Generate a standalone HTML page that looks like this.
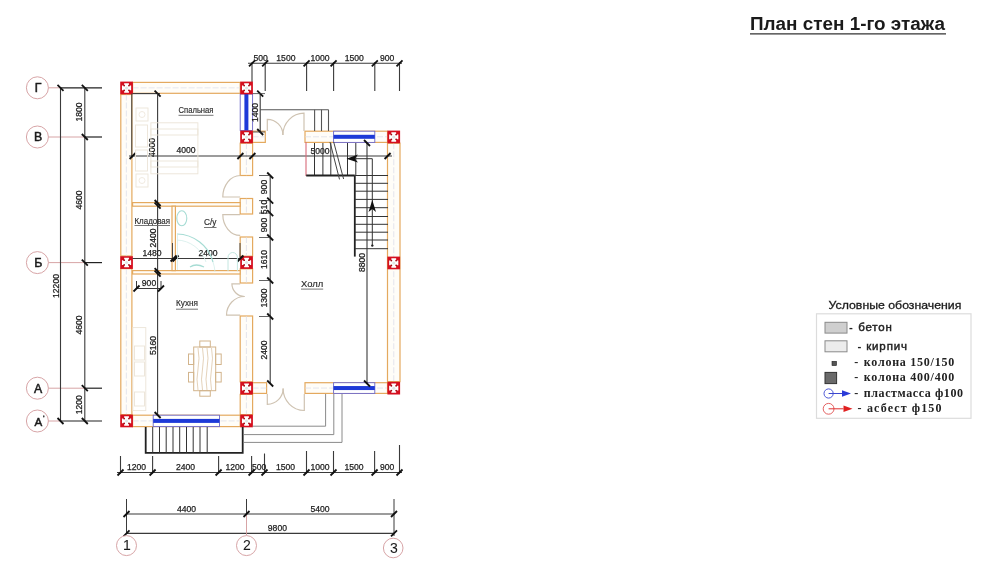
<!DOCTYPE html>
<html><head><meta charset="utf-8"><style>
html,body{margin:0;padding:0;background:#fff;}
svg{display:block;filter:blur(0.35px);}
</style></head><body>
<svg width="1000" height="573" viewBox="0 0 1000 573">
<rect width="1000" height="573" fill="#fff"/>
<text x="750" y="29.6" font-size="18.9" font-weight="bold" fill="#1a1a1a" font-family="Liberation Sans">План стен 1-го этажа</text>
<line x1="750" y1="33.8" x2="946" y2="33.8" stroke="#333" stroke-width="1.3" />
<line x1="48.4" y1="87.8" x2="60" y2="87.8" stroke="#d39a9c" stroke-width="0.9" />
<line x1="60" y1="87.8" x2="102" y2="87.8" stroke="#222" stroke-width="1.2" />
<circle cx="37.4" cy="87.8" r="11" fill="#fff" stroke="#d39a9c" stroke-width="0.9"/>
<text x="38.2" y="88.1" font-size="12.3" text-anchor="middle" dominant-baseline="central" fill="#1a1a1a" font-family="Liberation Sans" font-weight="normal" stroke="#1a1a1a" stroke-width="0.5" >Г</text>
<line x1="48.4" y1="137" x2="85" y2="137" stroke="#d39a9c" stroke-width="0.9" />
<line x1="85" y1="137" x2="102" y2="137" stroke="#222" stroke-width="1.2" />
<circle cx="37.4" cy="137" r="11" fill="#fff" stroke="#d39a9c" stroke-width="0.9"/>
<text x="38.2" y="137.3" font-size="12.3" text-anchor="middle" dominant-baseline="central" fill="#1a1a1a" font-family="Liberation Sans" font-weight="normal" stroke="#1a1a1a" stroke-width="0.5" >В</text>
<line x1="48.4" y1="262.6" x2="85" y2="262.6" stroke="#d39a9c" stroke-width="0.9" />
<line x1="85" y1="262.6" x2="102" y2="262.6" stroke="#222" stroke-width="1.2" />
<circle cx="37.4" cy="262.6" r="11" fill="#fff" stroke="#d39a9c" stroke-width="0.9"/>
<text x="38.2" y="262.90000000000003" font-size="12.3" text-anchor="middle" dominant-baseline="central" fill="#1a1a1a" font-family="Liberation Sans" font-weight="normal" stroke="#1a1a1a" stroke-width="0.5" >Б</text>
<line x1="48.4" y1="388.2" x2="85" y2="388.2" stroke="#d39a9c" stroke-width="0.9" />
<line x1="85" y1="388.2" x2="102" y2="388.2" stroke="#222" stroke-width="1.2" />
<circle cx="37.4" cy="388.2" r="11" fill="#fff" stroke="#d39a9c" stroke-width="0.9"/>
<text x="38.2" y="388.5" font-size="12.3" text-anchor="middle" dominant-baseline="central" fill="#1a1a1a" font-family="Liberation Sans" font-weight="normal" stroke="#1a1a1a" stroke-width="0.5" >А</text>
<line x1="48.4" y1="421" x2="60" y2="421" stroke="#d39a9c" stroke-width="0.9" />
<line x1="60" y1="421" x2="102" y2="421" stroke="#222" stroke-width="1.2" />
<circle cx="37.4" cy="421" r="11" fill="#fff" stroke="#d39a9c" stroke-width="0.9"/>
<text x="38.3" y="421.3" font-size="11.6" text-anchor="middle" dominant-baseline="central" fill="#1a1a1a" font-family="Liberation Sans" font-weight="normal" stroke="#1a1a1a" stroke-width="0.5" >А</text>
<ellipse cx="43.8" cy="416.4" rx="0.7" ry="1.1" fill="#222"/>
<line x1="60.5" y1="87.8" x2="60.5" y2="421" stroke="#3a3a3a" stroke-width="1.1" />
<line x1="84.8" y1="87.8" x2="84.8" y2="421" stroke="#3a3a3a" stroke-width="1.1" />
<line x1="57.5" y1="84.8" x2="63.5" y2="90.8" stroke="#111" stroke-width="1.8"/>
<line x1="57.5" y1="418" x2="63.5" y2="424" stroke="#111" stroke-width="1.8"/>
<line x1="81.8" y1="84.8" x2="87.8" y2="90.8" stroke="#111" stroke-width="1.8"/>
<line x1="81.8" y1="134" x2="87.8" y2="140" stroke="#111" stroke-width="1.8"/>
<line x1="81.8" y1="259.6" x2="87.8" y2="265.6" stroke="#111" stroke-width="1.8"/>
<line x1="81.8" y1="385.2" x2="87.8" y2="391.2" stroke="#111" stroke-width="1.8"/>
<line x1="81.8" y1="418" x2="87.8" y2="424" stroke="#111" stroke-width="1.8"/>
<text x="79.3" y="112" font-size="8.6" text-anchor="middle" dominant-baseline="central" fill="#1e1e1e" font-family="Liberation Sans" font-weight="normal" transform="rotate(-90 79.3 112)" stroke="#1e1e1e" stroke-width="0.25" >1800</text>
<text x="79.3" y="200" font-size="8.6" text-anchor="middle" dominant-baseline="central" fill="#1e1e1e" font-family="Liberation Sans" font-weight="normal" transform="rotate(-90 79.3 200)" stroke="#1e1e1e" stroke-width="0.25" >4600</text>
<text x="79.3" y="325" font-size="8.6" text-anchor="middle" dominant-baseline="central" fill="#1e1e1e" font-family="Liberation Sans" font-weight="normal" transform="rotate(-90 79.3 325)" stroke="#1e1e1e" stroke-width="0.25" >4600</text>
<text x="79.3" y="404.8" font-size="8.6" text-anchor="middle" dominant-baseline="central" fill="#1e1e1e" font-family="Liberation Sans" font-weight="normal" transform="rotate(-90 79.3 404.8)" stroke="#1e1e1e" stroke-width="0.25" >1200</text>
<text x="55.5" y="286" font-size="8.6" text-anchor="middle" dominant-baseline="central" fill="#1e1e1e" font-family="Liberation Sans" font-weight="normal" transform="rotate(-90 55.5 286)" stroke="#1e1e1e" stroke-width="0.25" >12200</text>
<line x1="248" y1="63.3" x2="402" y2="63.3" stroke="#3a3a3a" stroke-width="1.1" />
<line x1="252" y1="62.3" x2="252" y2="82" stroke="#3a3a3a" stroke-width="1.1" />
<line x1="249" y1="66.3" x2="255" y2="60.3" stroke="#111" stroke-width="1.8"/>
<line x1="265.2" y1="62.3" x2="265.2" y2="91" stroke="#3a3a3a" stroke-width="1.1" />
<line x1="262.2" y1="66.3" x2="268.2" y2="60.3" stroke="#111" stroke-width="1.8"/>
<line x1="306.6" y1="62.3" x2="306.6" y2="91" stroke="#3a3a3a" stroke-width="1.1" />
<line x1="303.6" y1="66.3" x2="309.6" y2="60.3" stroke="#111" stroke-width="1.8"/>
<line x1="333.6" y1="62.3" x2="333.6" y2="91" stroke="#3a3a3a" stroke-width="1.1" />
<line x1="330.6" y1="66.3" x2="336.6" y2="60.3" stroke="#111" stroke-width="1.8"/>
<line x1="374.8" y1="62.3" x2="374.8" y2="91" stroke="#3a3a3a" stroke-width="1.1" />
<line x1="371.8" y1="66.3" x2="377.8" y2="60.3" stroke="#111" stroke-width="1.8"/>
<line x1="399.5" y1="62.3" x2="399.5" y2="91" stroke="#3a3a3a" stroke-width="1.1" />
<line x1="396.5" y1="66.3" x2="402.5" y2="60.3" stroke="#111" stroke-width="1.8"/>
<text x="260.6" y="58.3" font-size="8.6" text-anchor="middle" dominant-baseline="central" fill="#1e1e1e" font-family="Liberation Sans" font-weight="normal" stroke="#1e1e1e" stroke-width="0.25" >500</text>
<text x="285.9" y="58.3" font-size="8.6" text-anchor="middle" dominant-baseline="central" fill="#1e1e1e" font-family="Liberation Sans" font-weight="normal" stroke="#1e1e1e" stroke-width="0.25" >1500</text>
<text x="320.1" y="58.3" font-size="8.6" text-anchor="middle" dominant-baseline="central" fill="#1e1e1e" font-family="Liberation Sans" font-weight="normal" stroke="#1e1e1e" stroke-width="0.25" >1000</text>
<text x="354.20000000000005" y="58.3" font-size="8.6" text-anchor="middle" dominant-baseline="central" fill="#1e1e1e" font-family="Liberation Sans" font-weight="normal" stroke="#1e1e1e" stroke-width="0.25" >1500</text>
<text x="387.15" y="58.3" font-size="8.6" text-anchor="middle" dominant-baseline="central" fill="#1e1e1e" font-family="Liberation Sans" font-weight="normal" stroke="#1e1e1e" stroke-width="0.25" >900</text>
<line x1="117" y1="472.5" x2="402" y2="472.5" stroke="#3a3a3a" stroke-width="1.1" />
<line x1="120.5" y1="456" x2="120.5" y2="473.5" stroke="#3a3a3a" stroke-width="1.1" />
<line x1="117.5" y1="475.5" x2="123.5" y2="469.5" stroke="#111" stroke-width="1.8"/>
<line x1="152.6" y1="456" x2="152.6" y2="473.5" stroke="#3a3a3a" stroke-width="1.1" />
<line x1="149.6" y1="475.5" x2="155.6" y2="469.5" stroke="#111" stroke-width="1.8"/>
<line x1="218.6" y1="456" x2="218.6" y2="473.5" stroke="#3a3a3a" stroke-width="1.1" />
<line x1="215.6" y1="475.5" x2="221.6" y2="469.5" stroke="#111" stroke-width="1.8"/>
<line x1="251.6" y1="456" x2="251.6" y2="473.5" stroke="#3a3a3a" stroke-width="1.1" />
<line x1="248.6" y1="475.5" x2="254.6" y2="469.5" stroke="#111" stroke-width="1.8"/>
<line x1="264.5" y1="453.5" x2="264.5" y2="473.5" stroke="#3a3a3a" stroke-width="1.1" />
<line x1="261.5" y1="475.5" x2="267.5" y2="469.5" stroke="#111" stroke-width="1.8"/>
<line x1="306.5" y1="451" x2="306.5" y2="473.5" stroke="#3a3a3a" stroke-width="1.1" />
<line x1="303.5" y1="475.5" x2="309.5" y2="469.5" stroke="#111" stroke-width="1.8"/>
<line x1="333.5" y1="451" x2="333.5" y2="473.5" stroke="#3a3a3a" stroke-width="1.1" />
<line x1="330.5" y1="475.5" x2="336.5" y2="469.5" stroke="#111" stroke-width="1.8"/>
<line x1="374.6" y1="451" x2="374.6" y2="473.5" stroke="#3a3a3a" stroke-width="1.1" />
<line x1="371.6" y1="475.5" x2="377.6" y2="469.5" stroke="#111" stroke-width="1.8"/>
<line x1="399.5" y1="445" x2="399.5" y2="473.5" stroke="#3a3a3a" stroke-width="1.1" />
<line x1="396.5" y1="475.5" x2="402.5" y2="469.5" stroke="#111" stroke-width="1.8"/>
<text x="136.55" y="466.5" font-size="8.6" text-anchor="middle" dominant-baseline="central" fill="#1e1e1e" font-family="Liberation Sans" font-weight="normal" stroke="#1e1e1e" stroke-width="0.25" >1200</text>
<text x="185.6" y="466.5" font-size="8.6" text-anchor="middle" dominant-baseline="central" fill="#1e1e1e" font-family="Liberation Sans" font-weight="normal" stroke="#1e1e1e" stroke-width="0.25" >2400</text>
<text x="235.1" y="466.5" font-size="8.6" text-anchor="middle" dominant-baseline="central" fill="#1e1e1e" font-family="Liberation Sans" font-weight="normal" stroke="#1e1e1e" stroke-width="0.25" >1200</text>
<text x="259.05" y="466.5" font-size="8.6" text-anchor="middle" dominant-baseline="central" fill="#1e1e1e" font-family="Liberation Sans" font-weight="normal" stroke="#1e1e1e" stroke-width="0.25" >500</text>
<text x="285.5" y="466.5" font-size="8.6" text-anchor="middle" dominant-baseline="central" fill="#1e1e1e" font-family="Liberation Sans" font-weight="normal" stroke="#1e1e1e" stroke-width="0.25" >1500</text>
<text x="320.0" y="466.5" font-size="8.6" text-anchor="middle" dominant-baseline="central" fill="#1e1e1e" font-family="Liberation Sans" font-weight="normal" stroke="#1e1e1e" stroke-width="0.25" >1000</text>
<text x="354.05" y="466.5" font-size="8.6" text-anchor="middle" dominant-baseline="central" fill="#1e1e1e" font-family="Liberation Sans" font-weight="normal" stroke="#1e1e1e" stroke-width="0.25" >1500</text>
<text x="387.05" y="466.5" font-size="8.6" text-anchor="middle" dominant-baseline="central" fill="#1e1e1e" font-family="Liberation Sans" font-weight="normal" stroke="#1e1e1e" stroke-width="0.25" >900</text>
<line x1="126.5" y1="514" x2="394" y2="514" stroke="#3a3a3a" stroke-width="1.1" />
<line x1="126.5" y1="533.4" x2="394" y2="533.4" stroke="#3a3a3a" stroke-width="1.1" />
<line x1="126.5" y1="499" x2="126.5" y2="534" stroke="#3a3a3a" stroke-width="1" />
<line x1="394" y1="499" x2="394" y2="536" stroke="#3a3a3a" stroke-width="1" />
<line x1="246.5" y1="499" x2="246.5" y2="514" stroke="#3a3a3a" stroke-width="1" />
<line x1="246.5" y1="514" x2="246.5" y2="535" stroke="#d39a9c" stroke-width="0.9" />
<line x1="123.5" y1="517" x2="129.5" y2="511" stroke="#111" stroke-width="1.8"/>
<line x1="243.5" y1="517" x2="249.5" y2="511" stroke="#111" stroke-width="1.8"/>
<line x1="391" y1="517" x2="397" y2="511" stroke="#111" stroke-width="1.8"/>
<line x1="123.5" y1="536.4" x2="129.5" y2="530.4" stroke="#111" stroke-width="1.8"/>
<line x1="391" y1="536.4" x2="397" y2="530.4" stroke="#111" stroke-width="1.8"/>
<text x="186.5" y="509" font-size="8.6" text-anchor="middle" dominant-baseline="central" fill="#1e1e1e" font-family="Liberation Sans" font-weight="normal" stroke="#1e1e1e" stroke-width="0.25" >4400</text>
<text x="320" y="509" font-size="8.6" text-anchor="middle" dominant-baseline="central" fill="#1e1e1e" font-family="Liberation Sans" font-weight="normal" stroke="#1e1e1e" stroke-width="0.25" >5400</text>
<text x="277.4" y="527.5" font-size="8.6" text-anchor="middle" dominant-baseline="central" fill="#1e1e1e" font-family="Liberation Sans" font-weight="normal" stroke="#1e1e1e" stroke-width="0.25" >9800</text>
<circle cx="126.5" cy="545.6" r="10" fill="#fff" stroke="#d39a9c" stroke-width="0.9"/>
<text x="127" y="545.4" font-size="14" text-anchor="middle" dominant-baseline="central" fill="#1a1a1a" font-family="Liberation Sans" font-weight="normal" stroke="#1a1a1a" stroke-width="0.05" >1</text>
<circle cx="246.5" cy="545.6" r="10" fill="#fff" stroke="#d39a9c" stroke-width="0.9"/>
<text x="247" y="545.4" font-size="14" text-anchor="middle" dominant-baseline="central" fill="#1a1a1a" font-family="Liberation Sans" font-weight="normal" stroke="#1a1a1a" stroke-width="0.05" >2</text>
<circle cx="393.2" cy="548" r="9.8" fill="#fff" stroke="#d39a9c" stroke-width="0.9"/>
<text x="394" y="547.6" font-size="14" text-anchor="middle" dominant-baseline="central" fill="#1a1a1a" font-family="Liberation Sans" font-weight="normal" stroke="#1a1a1a" stroke-width="0.05" >3</text>
<rect x="132.6" y="82.4" width="107.6" height="10.899999999999991" fill="#fffdf8" stroke="#e4a95e" stroke-width="1.2"/>
<line x1="132.6" y1="87.85" x2="240.2" y2="87.85" stroke="#d8dbe8" stroke-width="0.7" stroke-dasharray="6 2"/>
<rect x="120.8" y="94.5" width="11.100000000000009" height="161.5" fill="#fffdf8" stroke="#e4a95e" stroke-width="1.2"/>
<line x1="126.35" y1="94.5" x2="126.35" y2="256" stroke="#d8dbe8" stroke-width="0.7" stroke-dasharray="6 2"/>
<rect x="120.8" y="268.6" width="11.100000000000009" height="146.0" fill="#fffdf8" stroke="#e4a95e" stroke-width="1.2"/>
<line x1="126.35" y1="268.6" x2="126.35" y2="414.6" stroke="#d8dbe8" stroke-width="0.7" stroke-dasharray="6 2"/>
<rect x="132.6" y="415.2" width="107.6" height="11.400000000000034" fill="#fffdf8" stroke="#e4a95e" stroke-width="1.2"/>
<line x1="132.6" y1="420.9" x2="240.2" y2="420.9" stroke="#d8dbe8" stroke-width="0.7" stroke-dasharray="6 2"/>
<rect x="153.2" y="415.2" width="66.30000000000001" height="11.400000000000034" fill="#fff" stroke="#6a66c8" stroke-width="0.9"/>
<rect x="153.2" y="418.9" width="66.30000000000001" height="4" fill="#1e3ad8"/>
<rect x="240.2" y="94" width="12.400000000000006" height="36.5" fill="#fff" stroke="#6a66c8" stroke-width="0.9"/>
<rect x="244.39999999999998" y="94" width="4" height="36.5" fill="#1e3ad8"/>
<rect x="240.2" y="143.2" width="12.400000000000006" height="32.30000000000001" fill="#fffdf8" stroke="#e4a95e" stroke-width="1.2"/>
<line x1="246.39999999999998" y1="143.2" x2="246.39999999999998" y2="175.5" stroke="#d8dbe8" stroke-width="0.7" stroke-dasharray="6 2"/>
<rect x="240.2" y="198.5" width="12.400000000000006" height="15.5" fill="#fffdf8" stroke="#e4a95e" stroke-width="1.2"/>
<line x1="246.39999999999998" y1="198.5" x2="246.39999999999998" y2="214" stroke="#d8dbe8" stroke-width="0.7" stroke-dasharray="6 2"/>
<rect x="240.2" y="237" width="12.400000000000006" height="19.19999999999999" fill="#fffdf8" stroke="#e4a95e" stroke-width="1.2"/>
<line x1="246.39999999999998" y1="237" x2="246.39999999999998" y2="256.2" stroke="#d8dbe8" stroke-width="0.7" stroke-dasharray="6 2"/>
<rect x="240.2" y="268.8" width="12.400000000000006" height="14.199999999999989" fill="#fffdf8" stroke="#e4a95e" stroke-width="1.2"/>
<line x1="246.39999999999998" y1="268.8" x2="246.39999999999998" y2="283" stroke="#d8dbe8" stroke-width="0.7" stroke-dasharray="6 2"/>
<rect x="240.2" y="316" width="12.400000000000006" height="65.80000000000001" fill="#fffdf8" stroke="#e4a95e" stroke-width="1.2"/>
<line x1="246.39999999999998" y1="316" x2="246.39999999999998" y2="381.8" stroke="#d8dbe8" stroke-width="0.7" stroke-dasharray="6 2"/>
<rect x="240.2" y="394.4" width="12.400000000000006" height="20.200000000000045" fill="#fffdf8" stroke="#e4a95e" stroke-width="1.2"/>
<line x1="246.39999999999998" y1="394.4" x2="246.39999999999998" y2="414.6" stroke="#d8dbe8" stroke-width="0.7" stroke-dasharray="6 2"/>
<rect x="252.6" y="131.2" width="12.700000000000017" height="11.200000000000017" fill="#fffdf8" stroke="#e4a95e" stroke-width="1.2"/>
<line x1="252.6" y1="136.8" x2="265.3" y2="136.8" stroke="#d8dbe8" stroke-width="0.7" stroke-dasharray="6 2"/>
<rect x="305" y="131.2" width="82.5" height="11.200000000000017" fill="#fffdf8" stroke="#e4a95e" stroke-width="1.2"/>
<line x1="305" y1="136.8" x2="387.5" y2="136.8" stroke="#d8dbe8" stroke-width="0.7" stroke-dasharray="6 2"/>
<rect x="333.6" y="131.2" width="41.19999999999999" height="11.200000000000017" fill="#fff" stroke="#6a66c8" stroke-width="0.9"/>
<rect x="333.6" y="134.8" width="41.19999999999999" height="4" fill="#1e3ad8"/>
<rect x="387.5" y="143.2" width="12.5" height="238.40000000000003" fill="#fffdf8" stroke="#e4a95e" stroke-width="1.2"/>
<line x1="393.75" y1="143.2" x2="393.75" y2="381.6" stroke="#d8dbe8" stroke-width="0.7" stroke-dasharray="6 2"/>
<rect x="252.6" y="382.7" width="14.000000000000028" height="10.699999999999989" fill="#fffdf8" stroke="#e4a95e" stroke-width="1.2"/>
<line x1="252.6" y1="388.04999999999995" x2="266.6" y2="388.04999999999995" stroke="#d8dbe8" stroke-width="0.7" stroke-dasharray="6 2"/>
<rect x="305" y="382.7" width="82.5" height="10.699999999999989" fill="#fffdf8" stroke="#e4a95e" stroke-width="1.2"/>
<line x1="305" y1="388.04999999999995" x2="387.5" y2="388.04999999999995" stroke="#d8dbe8" stroke-width="0.7" stroke-dasharray="6 2"/>
<rect x="333.6" y="382.7" width="41.19999999999999" height="10.699999999999989" fill="#fff" stroke="#6a66c8" stroke-width="0.9"/>
<rect x="333.6" y="386.04999999999995" width="41.19999999999999" height="4" fill="#1e3ad8"/>
<rect x="132.6" y="202.6" width="107.6" height="3.5999999999999943" fill="#fffdf8" stroke="#e4a95e" stroke-width="1.2"/>
<rect x="132.6" y="270.6" width="107.6" height="3.3999999999999773" fill="#fffdf8" stroke="#e4a95e" stroke-width="1.2"/>
<rect x="172" y="206.2" width="3.4000000000000057" height="64.40000000000003" fill="#fffdf8" stroke="#e4a95e" stroke-width="1.2"/>
<rect x="120.2" y="81.6" width="12.7" height="12.7" fill="#d50f1e"/>
<path d="M124.15 83.25H128.95V85.55H131.15V90.35H128.95V92.65H124.15V90.35H121.95V85.55H124.15Z" fill="#fff"/>
<circle cx="124.15" cy="85.55" r="0.9" fill="#a00a14"/>
<circle cx="124.15" cy="90.35" r="0.9" fill="#a00a14"/>
<circle cx="128.95" cy="85.55" r="0.9" fill="#a00a14"/>
<circle cx="128.95" cy="90.35" r="0.9" fill="#a00a14"/>
<circle cx="126.55" cy="87.94999999999999" r="1.5" fill="#dfe6e4"/>
<rect x="240.2" y="81.6" width="12.7" height="12.7" fill="#d50f1e"/>
<path d="M244.15 83.25H248.95V85.55H251.15V90.35H248.95V92.65H244.15V90.35H241.95V85.55H244.15Z" fill="#fff"/>
<circle cx="244.15" cy="85.55" r="0.9" fill="#a00a14"/>
<circle cx="244.15" cy="90.35" r="0.9" fill="#a00a14"/>
<circle cx="248.95" cy="85.55" r="0.9" fill="#a00a14"/>
<circle cx="248.95" cy="90.35" r="0.9" fill="#a00a14"/>
<circle cx="246.54999999999998" cy="87.94999999999999" r="1.5" fill="#dfe6e4"/>
<rect x="240.2" y="130.6" width="12.7" height="12.7" fill="#d50f1e"/>
<path d="M244.15 132.25H248.95V134.55H251.15V139.35H248.95V141.65H244.15V139.35H241.95V134.55H244.15Z" fill="#fff"/>
<circle cx="244.15" cy="134.55" r="0.9" fill="#a00a14"/>
<circle cx="244.15" cy="139.35" r="0.9" fill="#a00a14"/>
<circle cx="248.95" cy="134.55" r="0.9" fill="#a00a14"/>
<circle cx="248.95" cy="139.35" r="0.9" fill="#a00a14"/>
<circle cx="246.54999999999998" cy="136.95" r="1.5" fill="#dfe6e4"/>
<rect x="387.4" y="130.6" width="12.7" height="12.7" fill="#d50f1e"/>
<path d="M391.35 132.25H396.15V134.55H398.35V139.35H396.15V141.65H391.35V139.35H389.15V134.55H391.35Z" fill="#fff"/>
<circle cx="391.35" cy="134.55" r="0.9" fill="#a00a14"/>
<circle cx="391.35" cy="139.35" r="0.9" fill="#a00a14"/>
<circle cx="396.15" cy="134.55" r="0.9" fill="#a00a14"/>
<circle cx="396.15" cy="139.35" r="0.9" fill="#a00a14"/>
<circle cx="393.75" cy="136.95" r="1.5" fill="#dfe6e4"/>
<rect x="120.2" y="256.2" width="12.7" height="12.7" fill="#d50f1e"/>
<path d="M124.15 257.85H128.95V260.15H131.15V264.95H128.95V267.25H124.15V264.95H121.95V260.15H124.15Z" fill="#fff"/>
<circle cx="124.15" cy="260.15" r="0.9" fill="#a00a14"/>
<circle cx="124.15" cy="264.95" r="0.9" fill="#a00a14"/>
<circle cx="128.95" cy="260.15" r="0.9" fill="#a00a14"/>
<circle cx="128.95" cy="264.95" r="0.9" fill="#a00a14"/>
<circle cx="126.55" cy="262.55" r="1.5" fill="#dfe6e4"/>
<rect x="240.2" y="256.2" width="12.7" height="12.7" fill="#d50f1e"/>
<path d="M244.15 257.85H248.95V260.15H251.15V264.95H248.95V267.25H244.15V264.95H241.95V260.15H244.15Z" fill="#fff"/>
<circle cx="244.15" cy="260.15" r="0.9" fill="#a00a14"/>
<circle cx="244.15" cy="264.95" r="0.9" fill="#a00a14"/>
<circle cx="248.95" cy="260.15" r="0.9" fill="#a00a14"/>
<circle cx="248.95" cy="264.95" r="0.9" fill="#a00a14"/>
<circle cx="246.54999999999998" cy="262.55" r="1.5" fill="#dfe6e4"/>
<rect x="387.4" y="256.6" width="12.7" height="12.7" fill="#d50f1e"/>
<path d="M391.35 258.25H396.15V260.55H398.35V265.35H396.15V267.65H391.35V265.35H389.15V260.55H391.35Z" fill="#fff"/>
<circle cx="391.35" cy="260.55" r="0.9" fill="#a00a14"/>
<circle cx="391.35" cy="265.35" r="0.9" fill="#a00a14"/>
<circle cx="396.15" cy="260.55" r="0.9" fill="#a00a14"/>
<circle cx="396.15" cy="265.35" r="0.9" fill="#a00a14"/>
<circle cx="393.75" cy="262.95000000000005" r="1.5" fill="#dfe6e4"/>
<rect x="240.2" y="381.8" width="12.7" height="12.7" fill="#d50f1e"/>
<path d="M244.15 383.45H248.95V385.75H251.15V390.55H248.95V392.85H244.15V390.55H241.95V385.75H244.15Z" fill="#fff"/>
<circle cx="244.15" cy="385.75" r="0.9" fill="#a00a14"/>
<circle cx="244.15" cy="390.55" r="0.9" fill="#a00a14"/>
<circle cx="248.95" cy="385.75" r="0.9" fill="#a00a14"/>
<circle cx="248.95" cy="390.55" r="0.9" fill="#a00a14"/>
<circle cx="246.54999999999998" cy="388.15000000000003" r="1.5" fill="#dfe6e4"/>
<rect x="387.4" y="381.8" width="12.7" height="12.7" fill="#d50f1e"/>
<path d="M391.35 383.45H396.15V385.75H398.35V390.55H396.15V392.85H391.35V390.55H389.15V385.75H391.35Z" fill="#fff"/>
<circle cx="391.35" cy="385.75" r="0.9" fill="#a00a14"/>
<circle cx="391.35" cy="390.55" r="0.9" fill="#a00a14"/>
<circle cx="396.15" cy="385.75" r="0.9" fill="#a00a14"/>
<circle cx="396.15" cy="390.55" r="0.9" fill="#a00a14"/>
<circle cx="393.75" cy="388.15000000000003" r="1.5" fill="#dfe6e4"/>
<rect x="120.2" y="414.6" width="12.7" height="12.7" fill="#d50f1e"/>
<path d="M124.15 416.25H128.95V418.55H131.15V423.35H128.95V425.65H124.15V423.35H121.95V418.55H124.15Z" fill="#fff"/>
<circle cx="124.15" cy="418.55" r="0.9" fill="#a00a14"/>
<circle cx="124.15" cy="423.35" r="0.9" fill="#a00a14"/>
<circle cx="128.95" cy="418.55" r="0.9" fill="#a00a14"/>
<circle cx="128.95" cy="423.35" r="0.9" fill="#a00a14"/>
<circle cx="126.55" cy="420.95000000000005" r="1.5" fill="#dfe6e4"/>
<rect x="240.2" y="414.6" width="12.7" height="12.7" fill="#d50f1e"/>
<path d="M244.15 416.25H248.95V418.55H251.15V423.35H248.95V425.65H244.15V423.35H241.95V418.55H244.15Z" fill="#fff"/>
<circle cx="244.15" cy="418.55" r="0.9" fill="#a00a14"/>
<circle cx="244.15" cy="423.35" r="0.9" fill="#a00a14"/>
<circle cx="248.95" cy="418.55" r="0.9" fill="#a00a14"/>
<circle cx="248.95" cy="423.35" r="0.9" fill="#a00a14"/>
<circle cx="246.54999999999998" cy="420.95000000000005" r="1.5" fill="#dfe6e4"/>
<line x1="132.6" y1="93.6" x2="160" y2="93.6" stroke="#3a3a3a" stroke-width="1.1" />
<line x1="154.6" y1="90.6" x2="160.6" y2="96.6" stroke="#111" stroke-width="1.8"/>
<line x1="131.8" y1="93.6" x2="131.8" y2="158" stroke="#3a3a3a" stroke-width="1.0" />
<line x1="157.6" y1="93.6" x2="157.6" y2="415" stroke="#3a3a3a" stroke-width="1.1" />
<line x1="154.6" y1="412" x2="160.6" y2="418" stroke="#111" stroke-width="1.8"/>
<line x1="154.6" y1="268.2" x2="160.6" y2="274.2" stroke="#111" stroke-width="1.8"/>
<line x1="154.6" y1="270.6" x2="160.6" y2="276.6" stroke="#111" stroke-width="1.8"/>
<line x1="154.6" y1="200" x2="160.6" y2="206" stroke="#111" stroke-width="1.8"/>
<line x1="154.6" y1="202.6" x2="160.6" y2="208.6" stroke="#111" stroke-width="1.8"/>
<line x1="172.5" y1="243" x2="172.5" y2="258.5" stroke="#3a3a3a" stroke-width="0.9" />
<line x1="240" y1="243" x2="240" y2="258.5" stroke="#3a3a3a" stroke-width="0.9" />
<text x="151.5" y="147.5" font-size="8.6" text-anchor="middle" dominant-baseline="central" fill="#1e1e1e" font-family="Liberation Sans" font-weight="normal" transform="rotate(-90 151.5 147.5)" stroke="#1e1e1e" stroke-width="0.25" >4000</text>
<line x1="129" y1="156" x2="392" y2="156" stroke="#3a3a3a" stroke-width="1.1" />
<line x1="129.6" y1="159" x2="135.6" y2="153" stroke="#111" stroke-width="1.8"/>
<line x1="237.4" y1="159" x2="243.4" y2="153" stroke="#111" stroke-width="1.8"/>
<line x1="249.4" y1="159" x2="255.4" y2="153" stroke="#111" stroke-width="1.8"/>
<line x1="384.6" y1="159" x2="390.6" y2="153" stroke="#111" stroke-width="1.8"/>
<text x="186" y="150" font-size="8.6" text-anchor="middle" dominant-baseline="central" fill="#1e1e1e" font-family="Liberation Sans" font-weight="normal" stroke="#1e1e1e" stroke-width="0.25" >4000</text>
<text x="320" y="151" font-size="8.6" text-anchor="middle" dominant-baseline="central" fill="#1e1e1e" font-family="Liberation Sans" font-weight="normal" stroke="#1e1e1e" stroke-width="0.25" >5000</text>
<line x1="132.6" y1="258.5" x2="241" y2="258.5" stroke="#3a3a3a" stroke-width="1.1" />
<line x1="170.6" y1="261.5" x2="176.6" y2="255.5" stroke="#111" stroke-width="1.8"/>
<line x1="172.6" y1="261.5" x2="178.6" y2="255.5" stroke="#111" stroke-width="1.8"/>
<line x1="237.4" y1="261.5" x2="243.4" y2="255.5" stroke="#111" stroke-width="1.8"/>
<text x="152" y="253" font-size="8.6" text-anchor="middle" dominant-baseline="central" fill="#1e1e1e" font-family="Liberation Sans" font-weight="normal" stroke="#1e1e1e" stroke-width="0.25" >1480</text>
<text x="208" y="253" font-size="8.6" text-anchor="middle" dominant-baseline="central" fill="#1e1e1e" font-family="Liberation Sans" font-weight="normal" stroke="#1e1e1e" stroke-width="0.25" >2400</text>
<text x="152.8" y="238" font-size="8.6" text-anchor="middle" dominant-baseline="central" fill="#1e1e1e" font-family="Liberation Sans" font-weight="normal" transform="rotate(-90 152.8 238)" stroke="#1e1e1e" stroke-width="0.25" >2400</text>
<line x1="136.5" y1="288.5" x2="161" y2="288.5" stroke="#3a3a3a" stroke-width="1.0" />
<line x1="136.5" y1="281" x2="136.5" y2="289" stroke="#3a3a3a" stroke-width="1.0" />
<line x1="161" y1="281" x2="161" y2="289" stroke="#3a3a3a" stroke-width="1.0" />
<line x1="133.5" y1="291.5" x2="139.5" y2="285.5" stroke="#111" stroke-width="1.8"/>
<line x1="158" y1="291.5" x2="164" y2="285.5" stroke="#111" stroke-width="1.8"/>
<text x="149" y="283" font-size="8.6" text-anchor="middle" dominant-baseline="central" fill="#1e1e1e" font-family="Liberation Sans" font-weight="normal" stroke="#1e1e1e" stroke-width="0.25" >900</text>
<text x="153" y="345.5" font-size="8.6" text-anchor="middle" dominant-baseline="central" fill="#1e1e1e" font-family="Liberation Sans" font-weight="normal" transform="rotate(-90 153 345.5)" stroke="#1e1e1e" stroke-width="0.25" >5160</text>
<line x1="270.2" y1="175.5" x2="270.2" y2="383.5" stroke="#3a3a3a" stroke-width="1.1" />
<line x1="267.2" y1="172.5" x2="273.2" y2="178.5" stroke="#111" stroke-width="1.8"/>
<line x1="267.2" y1="197.6" x2="273.2" y2="203.6" stroke="#111" stroke-width="1.8"/>
<line x1="267.2" y1="210.1" x2="273.2" y2="216.1" stroke="#111" stroke-width="1.8"/>
<line x1="267.2" y1="234.5" x2="273.2" y2="240.5" stroke="#111" stroke-width="1.8"/>
<line x1="267.2" y1="277.5" x2="273.2" y2="283.5" stroke="#111" stroke-width="1.8"/>
<line x1="267.2" y1="313.5" x2="273.2" y2="319.5" stroke="#111" stroke-width="1.8"/>
<line x1="267.2" y1="380.5" x2="273.2" y2="386.5" stroke="#111" stroke-width="1.8"/>
<line x1="259" y1="175.5" x2="270.2" y2="175.5" stroke="#3a3a3a" stroke-width="0.8" />
<line x1="259" y1="200.6" x2="270.2" y2="200.6" stroke="#3a3a3a" stroke-width="0.8" />
<line x1="259" y1="213.1" x2="270.2" y2="213.1" stroke="#3a3a3a" stroke-width="0.8" />
<line x1="259" y1="237.5" x2="270.2" y2="237.5" stroke="#3a3a3a" stroke-width="0.8" />
<line x1="259" y1="280.5" x2="270.2" y2="280.5" stroke="#3a3a3a" stroke-width="0.8" />
<line x1="259" y1="316.5" x2="270.2" y2="316.5" stroke="#3a3a3a" stroke-width="0.8" />
<text x="264" y="187" font-size="8.6" text-anchor="middle" dominant-baseline="central" fill="#1e1e1e" font-family="Liberation Sans" font-weight="normal" transform="rotate(-90 264 187)" stroke="#1e1e1e" stroke-width="0.25" >900</text>
<text x="264" y="207" font-size="8.6" text-anchor="middle" dominant-baseline="central" fill="#1e1e1e" font-family="Liberation Sans" font-weight="normal" transform="rotate(-90 264 207)" stroke="#1e1e1e" stroke-width="0.25" >510</text>
<text x="264" y="225" font-size="8.6" text-anchor="middle" dominant-baseline="central" fill="#1e1e1e" font-family="Liberation Sans" font-weight="normal" transform="rotate(-90 264 225)" stroke="#1e1e1e" stroke-width="0.25" >900</text>
<text x="264" y="259.5" font-size="8.6" text-anchor="middle" dominant-baseline="central" fill="#1e1e1e" font-family="Liberation Sans" font-weight="normal" transform="rotate(-90 264 259.5)" stroke="#1e1e1e" stroke-width="0.25" >1610</text>
<text x="264" y="298" font-size="8.6" text-anchor="middle" dominant-baseline="central" fill="#1e1e1e" font-family="Liberation Sans" font-weight="normal" transform="rotate(-90 264 298)" stroke="#1e1e1e" stroke-width="0.25" >1300</text>
<text x="264" y="350" font-size="8.6" text-anchor="middle" dominant-baseline="central" fill="#1e1e1e" font-family="Liberation Sans" font-weight="normal" transform="rotate(-90 264 350)" stroke="#1e1e1e" stroke-width="0.25" >2400</text>
<line x1="260.2" y1="93.6" x2="260.2" y2="132" stroke="#3a3a3a" stroke-width="1.1" />
<line x1="257.2" y1="90.6" x2="263.2" y2="96.6" stroke="#111" stroke-width="1.8"/>
<line x1="257.2" y1="129" x2="263.2" y2="135" stroke="#111" stroke-width="1.8"/>
<line x1="253" y1="93.6" x2="265" y2="93.6" stroke="#3a3a3a" stroke-width="0.8" />
<line x1="253" y1="132" x2="265" y2="132" stroke="#3a3a3a" stroke-width="0.8" />
<text x="255" y="112.5" font-size="8.6" text-anchor="middle" dominant-baseline="central" fill="#1e1e1e" font-family="Liberation Sans" font-weight="normal" transform="rotate(-90 255 112.5)" stroke="#1e1e1e" stroke-width="0.25" >1400</text>
<line x1="367" y1="143" x2="367" y2="383.5" stroke="#3a3a3a" stroke-width="1.1" />
<line x1="364" y1="140" x2="370" y2="146" stroke="#111" stroke-width="1.8"/>
<line x1="364" y1="380.5" x2="370" y2="386.5" stroke="#111" stroke-width="1.8"/>
<text x="362" y="262.5" font-size="8.6" text-anchor="middle" dominant-baseline="central" fill="#1e1e1e" font-family="Liberation Sans" font-weight="normal" transform="rotate(-90 362 262.5)" stroke="#1e1e1e" stroke-width="0.25" >8800</text>
<rect x="150.9" y="122.8" width="47" height="51" fill="none" stroke="#ece4d8" stroke-width="0.9"/>
<rect x="150.9" y="129" width="47" height="6" fill="none" stroke="#ece4d8" stroke-width="0.9"/>
<rect x="150.9" y="161" width="47" height="6" fill="none" stroke="#ece4d8" stroke-width="0.9"/>
<rect x="136" y="108" width="12" height="13" fill="none" stroke="#ece4d8" stroke-width="0.9"/>
<circle cx="142" cy="114.5" r="3" fill="none" stroke="#ece4d8" stroke-width="0.8"/>
<rect x="136" y="174" width="12" height="13" fill="none" stroke="#ece4d8" stroke-width="0.9"/>
<circle cx="142" cy="180.5" r="3" fill="none" stroke="#ece4d8" stroke-width="0.8"/>
<rect x="135.5" y="125" width="12" height="22" fill="none" stroke="#ece4d8" stroke-width="0.9"/>
<rect x="135.5" y="150" width="12" height="21" fill="none" stroke="#ece4d8" stroke-width="0.9"/>
<rect x="132.8" y="327.6" width="13" height="83" fill="none" stroke="#ece4d8" stroke-width="0.9"/>
<rect x="134.5" y="346" width="10" height="14" fill="none" stroke="#ece4d8" stroke-width="0.9"/>
<rect x="134.5" y="362" width="10" height="14" fill="none" stroke="#ece4d8" stroke-width="0.9"/>
<rect x="134.5" y="392" width="10" height="14" fill="none" stroke="#ece4d8" stroke-width="0.9"/>
<rect x="193.7" y="347" width="22" height="43.7" fill="none" stroke="#d2b48c" stroke-width="1.0"/>
<rect x="199.8" y="341" width="10.5" height="6" fill="none" stroke="#d2b48c" stroke-width="1.0"/>
<rect x="199.8" y="390.7" width="10.5" height="5.5" fill="none" stroke="#d2b48c" stroke-width="1.0"/>
<rect x="188.5" y="354" width="5.2" height="10.5" fill="none" stroke="#d2b48c" stroke-width="1.0"/>
<rect x="188.5" y="372.4" width="5.2" height="9.6" fill="none" stroke="#d2b48c" stroke-width="1.0"/>
<rect x="215.6" y="354" width="5.6" height="10.5" fill="none" stroke="#d2b48c" stroke-width="1.0"/>
<rect x="215.6" y="372.4" width="5.6" height="9.6" fill="none" stroke="#d2b48c" stroke-width="1.0"/>
<path d="M198 348 q2 10 0 21 q-2 10 0 21" fill="none" stroke="#d2b48c" stroke-width="0.6"/>
<path d="M202.5 348 q2 10 0 21 q-2 10 0 21" fill="none" stroke="#d2b48c" stroke-width="0.6"/>
<path d="M207 348 q2 10 0 21 q-2 10 0 21" fill="none" stroke="#d2b48c" stroke-width="0.6"/>
<path d="M211.5 348 q2 10 0 21 q-2 10 0 21" fill="none" stroke="#d2b48c" stroke-width="0.6"/>
<ellipse cx="181.8" cy="218.3" rx="5" ry="7.5" fill="none" stroke="#a6dcd4" stroke-width="1.1"/>
<path d="M177 234 A38 38 0 0 1 213 262" fill="none" stroke="#a6dcd4" stroke-width="1.2"/>
<path d="M177 240 A32 32 0 0 1 206 262" fill="none" stroke="#d4eeea" stroke-width="0.8"/>
<path d="M213 262 A38 38 0 0 1 215 272" fill="none" stroke="#d4eeea" stroke-width="0.8"/>
<line x1="177.5" y1="234" x2="177.5" y2="270" stroke="#d4eeea" stroke-width="0.8"/>
<path d="M228 271 L228 257.5 A4.7 5 0 0 1 237.4 257.5 L237.4 271" fill="none" stroke="#c4e6e0" stroke-width="1"/>
<path d="M190 267 q6 -4 14 0" fill="none" stroke="#a6dcd4" stroke-width="1.3"/>
<path d="M267.3 131 L267.3 119.3 A15.6 15.6 0 0 1 282.9 134.9" fill="none" stroke="#cfc3b2" stroke-width="1.2"/>
<path d="M304 131 L304 113.2 A21.1 21.7 0 0 0 282.9 134.9" fill="none" stroke="#cfc3b2" stroke-width="1.2"/>
<path d="M267.3 394 L267.3 404.3 A15.8 15.8 0 0 0 283.1 388.5" fill="none" stroke="#cfc3b2" stroke-width="1.2"/>
<path d="M304.3 394 L304.3 410.5 A21.2 22 0 0 1 283.1 388.5" fill="none" stroke="#cfc3b2" stroke-width="1.2"/>
<path d="M240.2 197 L222.8 197 A17.4 21.5 0 0 1 240.2 175.5" fill="none" stroke="#cfc3b2" stroke-width="1.2"/>
<path d="M240.2 214.6 L222.8 214.6 A17.4 20.8 0 0 0 240.2 235.4" fill="none" stroke="#cfc3b2" stroke-width="1.2"/>
<path d="M240.2 283.8 L231.9 283.8 A12.7 12.7 0 0 0 244.6 296.5" fill="none" stroke="#cfc3b2" stroke-width="1.2"/>
<path d="M240.2 315.2 L226.5 315.2 A18.1 18.7 0 0 1 244.6 296.5" fill="none" stroke="#cfc3b2" stroke-width="1.2"/>
<line x1="260" y1="109.7" x2="328.5" y2="109.7" stroke="#555" stroke-width="1.1" />
<line x1="314.6" y1="109.7" x2="314.6" y2="131" stroke="#555" stroke-width="1.1" />
<line x1="321.5" y1="109.7" x2="321.5" y2="131" stroke="#555" stroke-width="1.1" />
<line x1="328.5" y1="109.7" x2="328.5" y2="131" stroke="#555" stroke-width="1.1" />
<line x1="306" y1="142" x2="306" y2="176" stroke="#d86a78" stroke-width="1.1" />
<line x1="314.5" y1="143" x2="314.5" y2="175.5" stroke="#333" stroke-width="1.0" />
<line x1="322.9" y1="143" x2="322.9" y2="175.5" stroke="#333" stroke-width="1.0" />
<line x1="330.8" y1="143" x2="330.8" y2="175.5" stroke="#333" stroke-width="1.0" />
<line x1="347.5" y1="143" x2="347.5" y2="175.5" stroke="#333" stroke-width="1.0" />
<line x1="355.8" y1="143" x2="355.8" y2="175.5" stroke="#333" stroke-width="1.0" />
<line x1="306.2" y1="175.5" x2="354.8" y2="175.5" stroke="#222" stroke-width="1.8" />
<line x1="330" y1="142" x2="339.5" y2="179.4" stroke="#444" stroke-width="1.0" />
<line x1="333.7" y1="142" x2="343.6" y2="179" stroke="#444" stroke-width="1.0" />
<line x1="354.8" y1="175.5" x2="354.8" y2="256.6" stroke="#222" stroke-width="1.8" />
<line x1="354.8" y1="175.5" x2="388" y2="175.5" stroke="#333" stroke-width="1.0" />
<line x1="354.8" y1="183.3" x2="388" y2="183.3" stroke="#333" stroke-width="1.0" />
<line x1="354.8" y1="191.2" x2="388" y2="191.2" stroke="#333" stroke-width="1.0" />
<line x1="354.8" y1="199.4" x2="388" y2="199.4" stroke="#333" stroke-width="1.0" />
<line x1="354.8" y1="207.7" x2="388" y2="207.7" stroke="#333" stroke-width="1.0" />
<line x1="354.8" y1="216.5" x2="388" y2="216.5" stroke="#333" stroke-width="1.0" />
<line x1="354.8" y1="224.3" x2="388" y2="224.3" stroke="#333" stroke-width="1.0" />
<line x1="354.8" y1="232.2" x2="388" y2="232.2" stroke="#333" stroke-width="1.0" />
<line x1="354.8" y1="240" x2="388" y2="240" stroke="#333" stroke-width="1.0" />
<line x1="354.8" y1="248.7" x2="388" y2="248.7" stroke="#333" stroke-width="1.0" />
<path d="M372.3 245.6 L372.3 158.7 L349 158.7" fill="none" stroke="#333" stroke-width="1"/>
<circle cx="372.3" cy="245.6" r="1.2" fill="#222"/>
<path d="M346.5 158.7 L358 154.5 L355 158.7 L358 162.5 Z" fill="#111"/>
<path d="M372.3 200 L368.5 212 L372.3 209 L376 212 Z" fill="#111"/>
<path d="M145.7 427 L145.7 452.8 L242.7 452.8 L242.7 427" fill="none" stroke="#222" stroke-width="1.8"/>
<line x1="152.7" y1="427" x2="152.7" y2="452.8" stroke="#333" stroke-width="1.0" />
<line x1="159.5" y1="427" x2="159.5" y2="452.8" stroke="#333" stroke-width="1.0" />
<line x1="166.2" y1="427" x2="166.2" y2="452.8" stroke="#333" stroke-width="1.0" />
<line x1="173" y1="427" x2="173" y2="452.8" stroke="#333" stroke-width="1.0" />
<line x1="179.7" y1="427" x2="179.7" y2="452.8" stroke="#333" stroke-width="1.0" />
<line x1="186.5" y1="427" x2="186.5" y2="452.8" stroke="#333" stroke-width="1.0" />
<line x1="193.2" y1="427" x2="193.2" y2="452.8" stroke="#333" stroke-width="1.0" />
<line x1="200" y1="427" x2="200" y2="452.8" stroke="#333" stroke-width="1.0" />
<line x1="207.2" y1="427" x2="207.2" y2="452.8" stroke="#333" stroke-width="1.0" />
<path d="M252.6 426.2 L325.6 426.2 L325.6 394" fill="none" stroke="#8a8a8a" stroke-width="1"/>
<path d="M244 434.6 L333.8 434.6 L333.8 394" fill="none" stroke="#8a8a8a" stroke-width="1"/>
<path d="M244 442.4 L342 442.4 L342 394" fill="none" stroke="#8a8a8a" stroke-width="1"/>
<text x="196.0" y="113" font-size="8.2" text-anchor="middle" fill="#2a2a2a" font-family="Liberation Sans" font-weight="normal" textLength="35.0" lengthAdjust="spacingAndGlyphs" stroke="#2a2a2a" stroke-width="0.15" >Спальная</text>
<line x1="178.5" y1="115.3" x2="213.5" y2="115.3" stroke="#666" stroke-width="0.9" />
<text x="152.25" y="223.5" font-size="8.2" text-anchor="middle" fill="#2a2a2a" font-family="Liberation Sans" font-weight="normal" textLength="35.5" lengthAdjust="spacingAndGlyphs" stroke="#2a2a2a" stroke-width="0.15" >Кладовая</text>
<line x1="134.5" y1="225.5" x2="170" y2="225.5" stroke="#666" stroke-width="0.9" />
<text x="210.25" y="225" font-size="8.2" text-anchor="middle" fill="#2a2a2a" font-family="Liberation Sans" font-weight="normal" textLength="12.5" lengthAdjust="spacingAndGlyphs" stroke="#2a2a2a" stroke-width="0.15" >С/у</text>
<line x1="204" y1="227.5" x2="216.5" y2="227.5" stroke="#666" stroke-width="0.9" />
<text x="187.0" y="306.3" font-size="8.2" text-anchor="middle" fill="#2a2a2a" font-family="Liberation Sans" font-weight="normal" textLength="22" lengthAdjust="spacingAndGlyphs" stroke="#2a2a2a" stroke-width="0.15" >Кухня</text>
<line x1="176" y1="309.2" x2="198" y2="309.2" stroke="#666" stroke-width="0.9" />
<text x="312.1" y="287" font-size="9.3" text-anchor="middle" fill="#2a2a2a" font-family="Liberation Sans" font-weight="normal" textLength="22.19999999999999" lengthAdjust="spacingAndGlyphs" stroke="#2a2a2a" stroke-width="0.15" >Холл</text>
<line x1="301" y1="289.1" x2="323.2" y2="289.1" stroke="#666" stroke-width="0.9" />
<text x="895" y="305.4" font-size="11.8" text-anchor="middle" dominant-baseline="central" fill="#1a1a1a" font-family="Liberation Sans" font-weight="normal" textLength="132.8" lengthAdjust="spacingAndGlyphs" stroke="#1a1a1a" stroke-width="0.3" >Условные обозначения</text>
<rect x="816.5" y="313.8" width="154.5" height="104.5" fill="#fff" stroke="#dcdcdc" stroke-width="1.2"/>
<rect x="825" y="322.3" width="22" height="10.8" fill="#cfcfcf" stroke="#8a8a8a" stroke-width="1"/>
<text x="849" y="327.3" font-size="11.5" text-anchor="start" dominant-baseline="central" fill="#222" font-family="Liberation Sans" font-weight="bold" >-</text>
<text x="858.2" y="327.3" font-size="11.5" text-anchor="start" dominant-baseline="central" fill="#222" font-family="Liberation Sans" font-weight="normal" textLength="33.6" lengthAdjust="spacing" stroke="#222" stroke-width="0.45" >бетон</text>
<rect x="825" y="340.8" width="22" height="11" fill="#ececec" stroke="#8a8a8a" stroke-width="1"/>
<text x="857.4" y="346" font-size="11.5" text-anchor="start" dominant-baseline="central" fill="#222" font-family="Liberation Sans" font-weight="bold" >-</text>
<text x="866.2" y="346" font-size="11.5" text-anchor="start" dominant-baseline="central" fill="#222" font-family="Liberation Sans" font-weight="normal" textLength="40.8" lengthAdjust="spacing" stroke="#222" stroke-width="0.45" >кирпич</text>
<rect x="832" y="361.3" width="4.5" height="4.3" fill="#555" stroke="#222" stroke-width="0.6"/>
<text x="854.2" y="361.6" font-size="12" text-anchor="start" dominant-baseline="central" fill="#222" font-family="Liberation Serif" font-weight="bold" >-</text>
<text x="863.8" y="361.6" font-size="12" text-anchor="start" dominant-baseline="central" fill="#222" font-family="Liberation Serif" font-weight="bold" textLength="90.4" lengthAdjust="spacing" >колона 150/150</text>
<rect x="825" y="372.4" width="11.6" height="11.2" fill="#6a6a6a" stroke="#333" stroke-width="1"/>
<text x="854.2" y="377" font-size="12" text-anchor="start" dominant-baseline="central" fill="#222" font-family="Liberation Serif" font-weight="bold" >-</text>
<text x="863.8" y="377" font-size="12" text-anchor="start" dominant-baseline="central" fill="#222" font-family="Liberation Serif" font-weight="bold" textLength="90.4" lengthAdjust="spacing" >колона 400/400</text>
<circle cx="828.6" cy="393.5" r="4.6" fill="none" stroke="#3a46d0" stroke-width="0.9"/>
<line x1="828.6" y1="393.5" x2="842.5" y2="393.5" stroke="#3a46d0" stroke-width="1" />
<path d="M842 390.3 L851 393.5 L842 396.7 Z" fill="#2a3ad8"/>
<text x="854.2" y="392.8" font-size="12" text-anchor="start" dominant-baseline="central" fill="#222" font-family="Liberation Serif" font-weight="bold" >-</text>
<text x="863.8" y="392.8" font-size="12" text-anchor="start" dominant-baseline="central" fill="#222" font-family="Liberation Serif" font-weight="bold" textLength="99.2" lengthAdjust="spacing" >пластмасса ф100</text>
<circle cx="828.6" cy="408.8" r="5.4" fill="none" stroke="#e05050" stroke-width="0.9"/>
<line x1="828.6" y1="408.8" x2="843.5" y2="408.8" stroke="#e03030" stroke-width="1" />
<path d="M843.5 405.6 L852.5 408.8 L843.5 412 Z" fill="#e02020"/>
<text x="857.5" y="408.2" font-size="12" text-anchor="start" dominant-baseline="central" fill="#222" font-family="Liberation Serif" font-weight="bold" >-</text>
<text x="867" y="408.2" font-size="12" text-anchor="start" dominant-baseline="central" fill="#222" font-family="Liberation Serif" font-weight="bold" textLength="74.4" lengthAdjust="spacing" >асбест ф150</text>
</svg>
</body></html>
